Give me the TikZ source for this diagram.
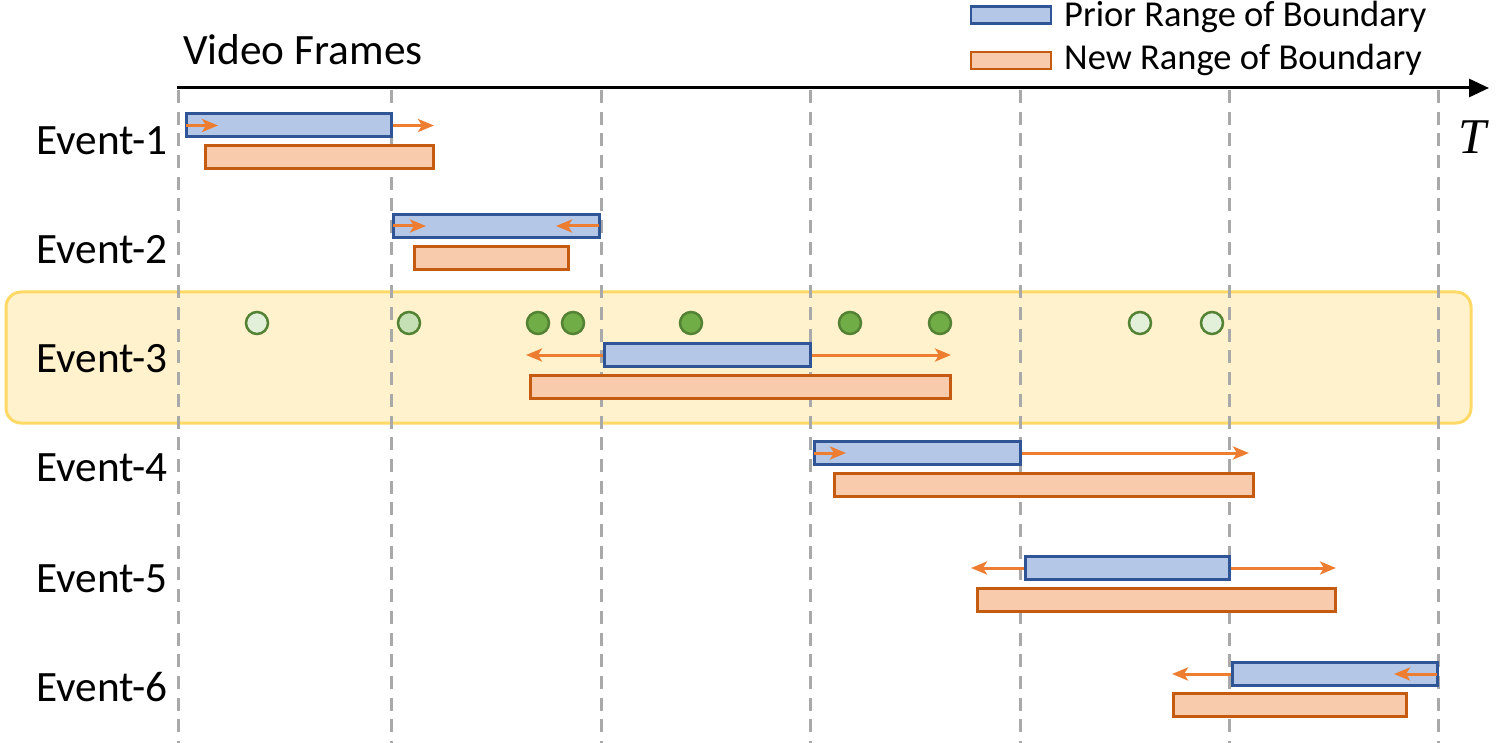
\documentclass[tikz,border=0pt]{standalone}
\usepackage{fontspec}
\setmainfont{Carlito}
\newfontfamily\tfont{Liberation Serif}
\usetikzlibrary{arrows.meta}
\definecolor{bfill}{HTML}{B4C7E7}
\definecolor{bdraw}{HTML}{2F5597}
\definecolor{ofill}{HTML}{F8CBAD}
\definecolor{odraw}{HTML}{C55A11}
\definecolor{arr}{HTML}{ED7D31}
\definecolor{bandf}{HTML}{FFF2CC}
\definecolor{bandb}{HTML}{FFD966}
\definecolor{gline}{HTML}{A9A9A9}
\definecolor{gdark}{HTML}{70AD47}
\definecolor{gmid}{HTML}{C5E0B4}
\definecolor{glight}{HTML}{E2F0D9}
\definecolor{gedge}{HTML}{548235}
\begin{document}
\begin{tikzpicture}[x=1pt,y=-1pt,
 prior/.style={draw=bdraw,fill=bfill,line width=3pt,minimum height=23pt,inner sep=0},
 newr/.style={draw=odraw,fill=ofill,line width=3pt,minimum height=23pt,inner sep=0},
 shiftarr/.style={draw=arr,line width=3pt,-{Stealth[length=16pt,width=13pt,inset=4pt]}},
 gridline/.style={draw=gline,line width=3pt,dash pattern=on 13pt off 8.7pt},
 lab/.style={font=\fontsize{43.3}{50}\selectfont,anchor=base west,inner sep=0},
 leg/.style={font=\fontsize{36.5}{42}\selectfont,anchor=base west,inner sep=0},
 dot/.style={circle,draw=gedge,line width=2.5pt,minimum size=22pt,inner sep=0}
]
\useasboundingbox (0,0) rectangle (1496,743);
% highlight band
\draw[fill=bandf,draw=bandb,line width=3pt,rounded corners=15pt] (6,292) rectangle (1471,423);
% grid lines
\foreach \gx [count=\i] in {178,391,601,810,1020,1229,1438}
  \coordinate (gt\i) at (\gx,90);
\foreach \gx [count=\i] in {178,391,601,810,1020,1229,1438}
  \coordinate (gb\i) at (\gx,743);
\foreach \i in {1,...,7}
  \draw[gridline] (gt\i) -- (gb\i);
% time axis
\coordinate (ax0) at (177,88);
\coordinate (ax1) at (1489,88);
\draw[line width=3pt,-{Triangle[length=20pt,width=18pt]}] (ax0) -- (ax1);
\node[lab] (vf) at (183,65) {Video Frames};
\node[font=\fontsize{50}{60}\selectfont\tfont\itshape,anchor=base,inner sep=0] (tt) at (1472,154) {T};
% legend
\node[prior,minimum width=80pt,minimum height=17pt,line width=2.5pt] (lp) at (1011,15) {};
\node[newr,minimum width=80pt,minimum height=17pt,line width=2.5pt] (ln) at (1011,60.5) {};
\node[leg] (lpt) at (1064,27) {Prior Range of Boundary};
\node[leg] (lnt) at (1064,70) {New Range of Boundary};
% dots
\foreach \dx/\dc [count=\i] in {257/glight,409/gmid,538/gdark,573/gdark,691/gdark,850/gdark,940/gdark,1140/glight,1212/glight}
  \node[dot,fill=\dc] (d\i) at (\dx,323) {};
% event labels
\node[lab] (e1) at (36,155) {Event-1};
\node[lab] (e2) at (36,264) {Event-2};
\node[lab] (e3) at (36,372) {Event-3};
\node[lab] (e4) at (36,481) {Event-4};
\node[lab] (e5) at (36,592) {Event-5};
\node[lab] (e6) at (36,701) {Event-6};
% bars
\node[newr,minimum width=228pt] (n1) at (319,157.5) {};
\node[prior,minimum width=205pt] (p1) at (288.5,125.5) {};
\node[newr,minimum width=154pt] (n2) at (491,258) {};
\node[prior,minimum width=206pt] (p2) at (496,226) {};
\node[newr,minimum width=420pt] (n3) at (740,387) {};
\node[prior,minimum width=206pt] (p3) at (707,355) {};
\node[newr,minimum width=419pt] (n4) at (1043.5,485) {};
\node[prior,minimum width=206pt] (p4) at (917,453) {};
\node[newr,minimum width=358pt] (n5) at (1156,600) {};
\node[prior,minimum width=204pt] (p5) at (1127,568) {};
\node[newr,minimum width=233pt] (n6) at (1289.5,705) {};
\node[prior,minimum width=205pt] (p6) at (1334.5,674) {};
% arrow ends
\coordinate (a1l) at (218,125.5);
\coordinate (a1r) at (434,125.5);
\coordinate (a2l) at (426,226);
\coordinate (a2r) at (556,226);
\coordinate (a3l) at (526,355);
\coordinate (a3r) at (951,355);
\coordinate (a4l) at (846,453);
\coordinate (a4r) at (1249,453);
\coordinate (a5l) at (971,568);
\coordinate (a5r) at (1336,568);
\coordinate (a6l) at (1172,674);
\coordinate (a6r) at (1394,674);
% shift arrows
\draw[shiftarr] ([xshift=1.5pt]p1.west) -- (a1l);
\draw[shiftarr] (p1.east) -- (a1r);
\draw[shiftarr] ([xshift=1.5pt]p2.west) -- (a2l);
\draw[shiftarr] ([xshift=-1.5pt]p2.east) -- (a2r);
\draw[shiftarr] (p3.west) -- (a3l);
\draw[shiftarr] (p3.east) -- (a3r);
\draw[shiftarr] ([xshift=1.5pt]p4.west) -- (a4l);
\draw[shiftarr] (p4.east) -- (a4r);
\draw[shiftarr] (p5.west) -- (a5l);
\draw[shiftarr] (p5.east) -- (a5r);
\draw[shiftarr] (p6.west) -- (a6l);
\draw[shiftarr] ([xshift=-1.5pt]p6.east) -- (a6r);
\end{tikzpicture}
\end{document}
